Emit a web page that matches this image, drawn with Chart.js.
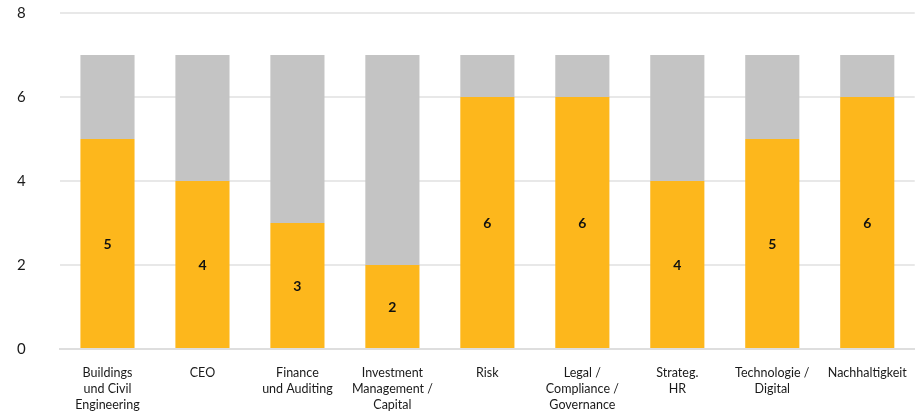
<!DOCTYPE html>
<html>
<head>
<meta charset="utf-8">
<script src="https://cdn.jsdelivr.net/npm/chart.js@4/dist/chart.umd.min.js"></script>
<style>
  html, body { margin: 0; padding: 0; background: #fff; }
  #wrap { width: 923px; height: 413px; position: relative; }
</style>
</head>
<body>
<div id="wrap"><canvas id="c"></canvas></div>
<script>
// Categories (multi-line labels)
const categories = [
  ["Buildings", "und Civil", "Engineering"],
  ["CEO"],
  ["Finance", "und Auditing"],
  ["Investment", "Management /", "Capital"],
  ["Risk"],
  ["Legal /", "Compliance /", "Governance"],
  ["Strateg.", "HR"],
  ["Technologie /", "Digital"],
  ["Nachhaltigkeit"]
];
// Filled value per category
const filled = [5, 4, 3, 2, 6, 6, 4, 5, 6];
// Remainder up to the total of 7
const remaining = [2, 3, 4, 5, 1, 1, 3, 2, 1];
const yTicks = [0, 2, 4, 6, 8];

const FONT = "Lato, 'Open Sans', sans-serif";

// Draws the filled value centred inside each orange bar
const centerLabels = {
  id: 'centerLabels',
  afterDatasetsDraw(chart) {
    const ctx = chart.ctx;
    const meta = chart.getDatasetMeta(0);
    ctx.save();
    ctx.font = "bold 14px " + FONT;
    ctx.fillStyle = "#111";
    ctx.textAlign = "center";
    ctx.textBaseline = "middle";
    meta.data.forEach((bar, i) => {
      const p = bar.getProps(['x', 'y', 'base'], true);
      ctx.fillText(String(filled[i]), p.x, (p.y + p.base) / 2 + 1);
    });
    ctx.restore();
  }
};

new Chart(document.getElementById('c'), {
  type: 'bar',
  data: {
    labels: categories,
    datasets: [
      { data: filled, backgroundColor: '#FDB71C', borderWidth: 0, barPercentage: 0.57, categoryPercentage: 1 },
      { data: remaining, backgroundColor: '#C4C4C4', borderWidth: 0, barPercentage: 0.57, categoryPercentage: 1 }
    ]
  },
  options: {
    responsive: true,
    maintainAspectRatio: false,
    animation: false,
    layout: { padding: { left: 17, right: 5, top: 2, bottom: 0 } },
    plugins: { legend: { display: false }, tooltip: { enabled: false } },
    scales: {
      x: {
        stacked: true,
        afterFit(axis) { axis.height = 64; },
        grid: { display: false, drawTicks: false },
        border: { display: true, color: '#dedede', width: 2 },
        ticks: { color: '#1a1a1a', font: { family: FONT, size: 12.5, lineHeight: 1.28 }, padding: 16, maxRotation: 0, autoSkip: false }
      },
      y: {
        stacked: true,
        min: 0, max: 8,
        afterBuildTicks(axis) { axis.ticks = yTicks.map(v => ({ value: v })); },
        afterFit(axis) { axis.width = 43; },
        grid: { color: '#e8e8e8', lineWidth: 2, drawTicks: false },
        border: { display: false },
        ticks: { color: '#1a1a1a', font: { family: FONT, size: 15 }, padding: 4, crossAlign: 'far' }
      }
    }
  },
  plugins: [centerLabels]
});
</script>
</body>
</html>
